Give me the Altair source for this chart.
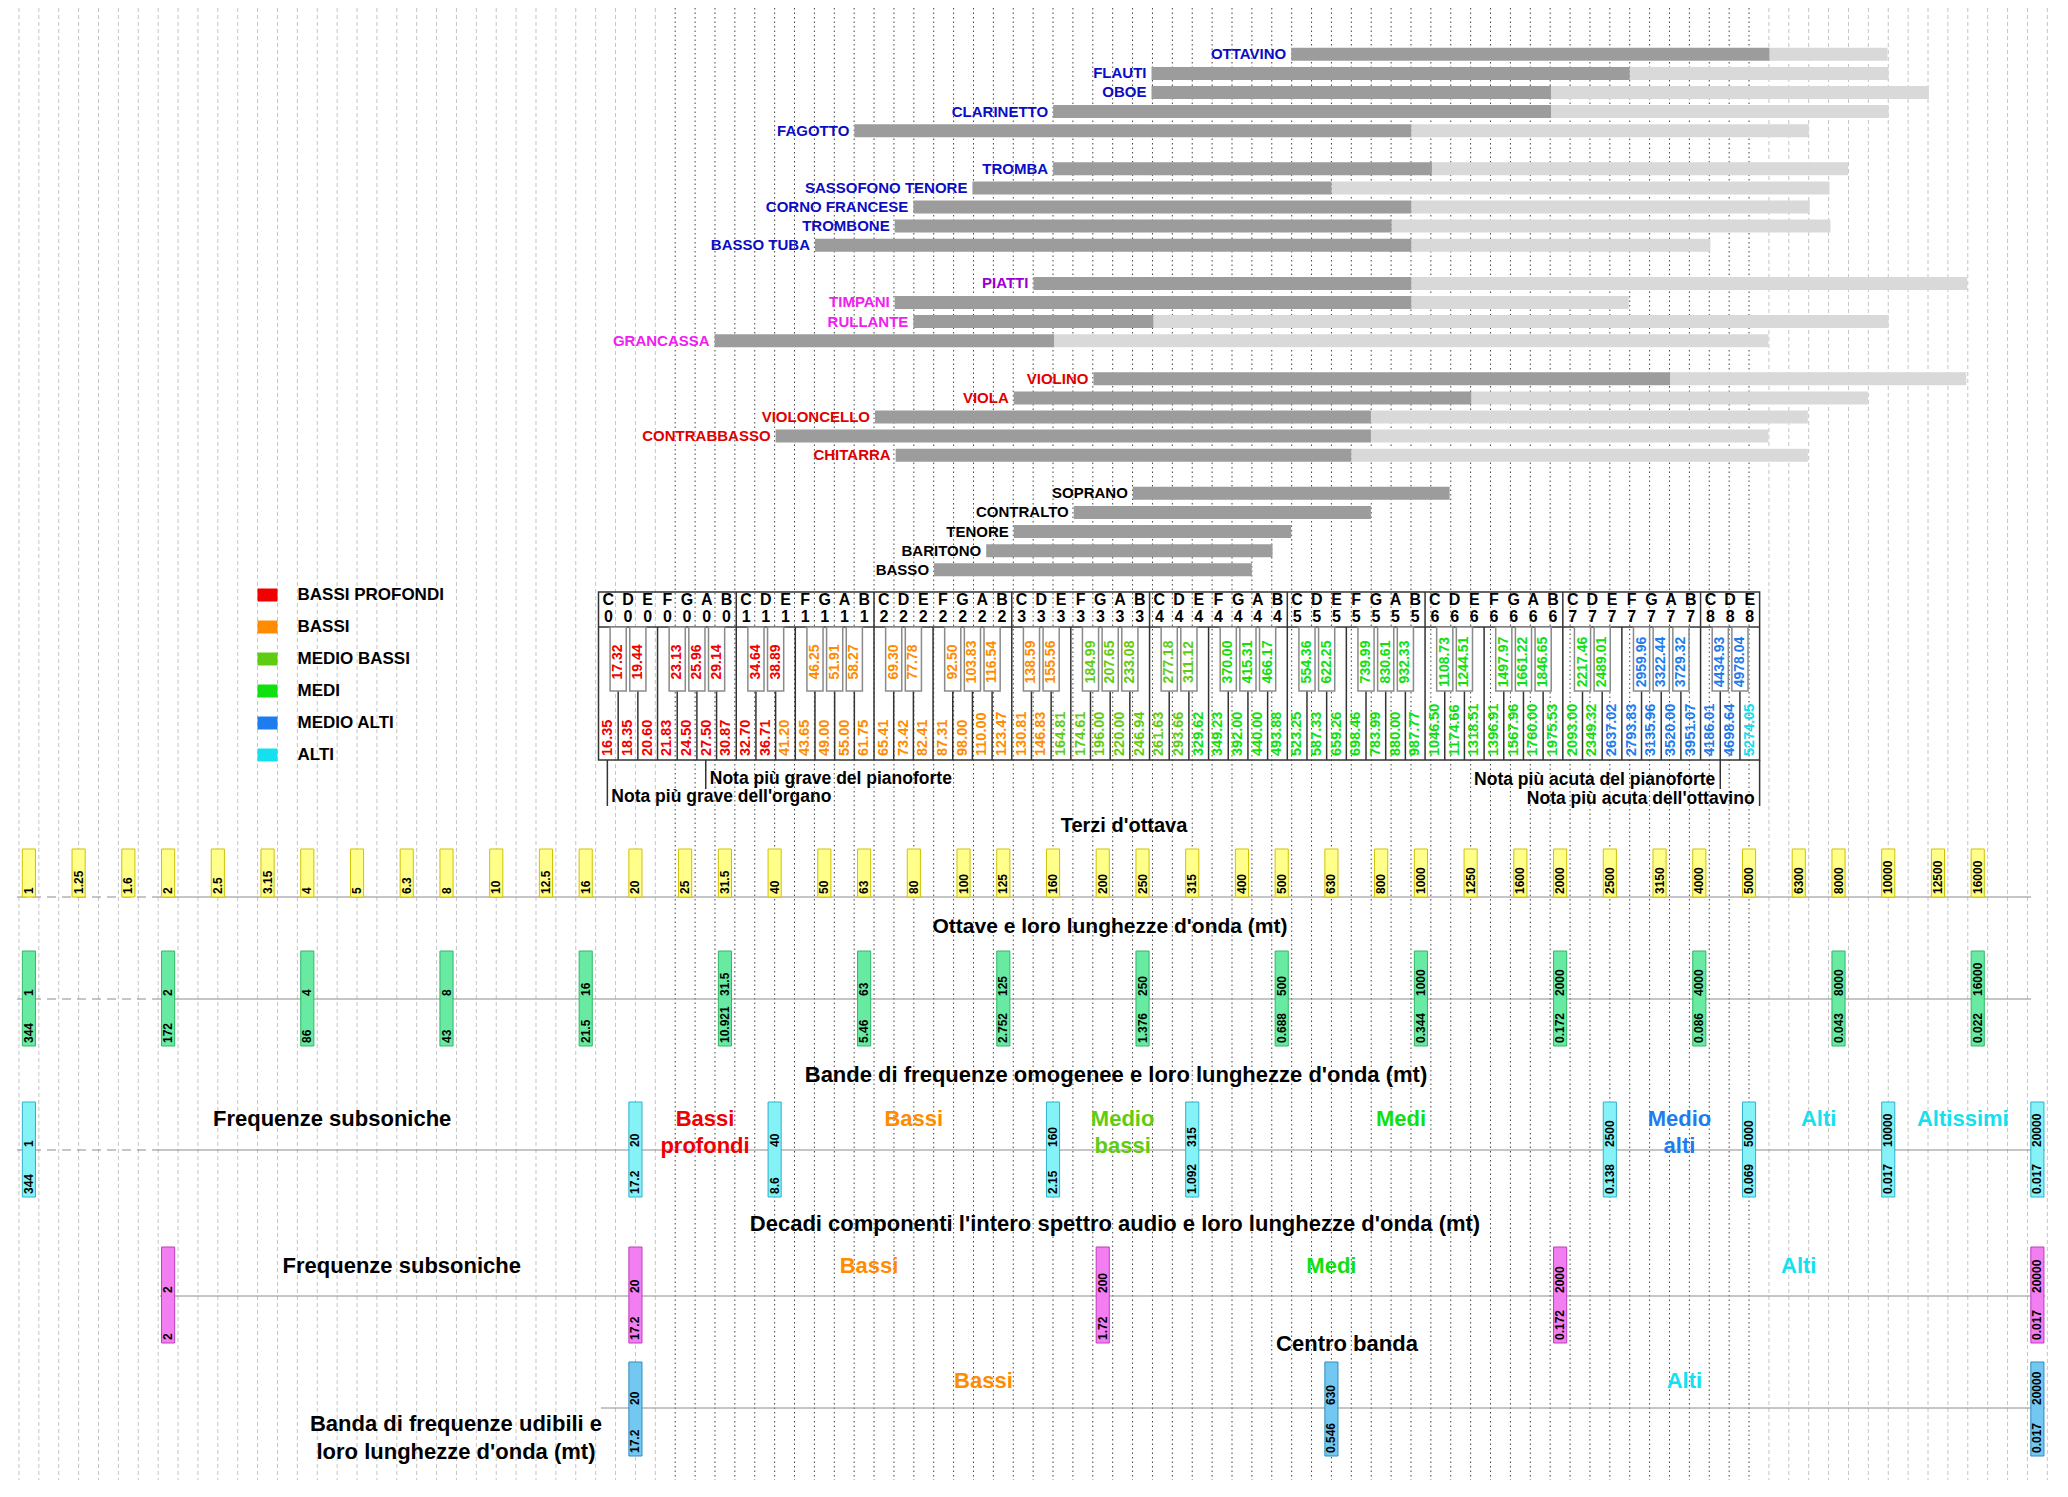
import altair as alt
import pandas as pd

# ======================= DATA =======================
instrument_names = ["OTTAVINO", "FLAUTI", "OBOE", "CLARINETTO", "FAGOTTO",
                    "TROMBA", "SASSOFONO TENORE", "CORNO FRANCESE", "TROMBONE", "BASSO TUBA",
                    "PIATTI", "TIMPANI", "RULLANTE", "GRANCASSA",
                    "VIOLINO", "VIOLA", "VIOLONCELLO", "CONTRABBASSO", "CHITARRA",
                    "SOPRANO", "CONTRALTO", "TENORE", "BARITONO", "BASSO"]
instrument_family = ["legni"] * 5 + ["ottoni"] * 5 + ["piatti", "tamburi", "tamburi", "tamburi"] + \
                    ["archi"] * 5 + ["voci"] * 5
instrument_row = [0, 1, 2, 3, 4, 6, 7, 8, 9, 10, 12, 13, 14, 15, 17, 18, 19, 20, 21, 23, 24, 25, 26, 27]
# keyboard key positions (white keys counted from C0)
instrument_low = [35.2, 28.1, 28.1, 23.1, 13.0, 23.1, 19.0, 16.0, 15.05, 11.0,
                  22.1, 15.05, 16.0, 5.9, 25.15, 21.1, 14.05, 9.0, 15.1,
                  27.15, 24.15, 21.1, 19.7, 17.05]
instrument_high = [59.5, 52.4, 48.4, 48.4, 41.3, 42.35, 37.25, 41.3, 40.3, 41.3,
                   41.3, 41.3, 28.2, 23.15, 54.45, 44.35, 39.25, 39.25, 38.25,
                   43.25, 39.25, 35.2, 34.25, 33.2]
instrument_harmonics = [65.5, 65.55, 67.6, 65.55, 61.5, 63.5, 62.55, 61.55, 62.6, 56.5,
                        69.55, 52.35, 65.55, 59.45, 69.5, 64.5, 61.45, 59.45, 61.45,
                        None, None, None, None, None]

note_letters = ["C", "D", "E", "F", "G", "A", "B"]
white_freqs = ["16.35", "18.35", "20.60", "21.83", "24.50", "27.50", "30.87",
               "32.70", "36.71", "41.20", "43.65", "49.00", "55.00", "61.75",
               "65.41", "73.42", "82.41", "87.31", "98.00", "110.00", "123.47",
               "130.81", "146.83", "164.81", "174.61", "196.00", "220.00", "246.94",
               "261.63", "293.66", "329.62", "349.23", "392.00", "440.00", "493.88",
               "523.25", "587.33", "659.26", "698.46", "783.99", "880.00", "987.77",
               "1046.50", "1174.66", "1318.51", "1396.91", "1567.96", "1760.00", "1975.53",
               "2093.00", "2349.32", "2637.02", "2793.83", "3135.96", "3520.00", "3951.07",
               "4186.01", "4698.64", "5274.05"]
black_freqs = ["17.32", "19.44", "23.13", "25.96", "29.14",
               "34.64", "38.89", "46.25", "51.91", "58.27",
               "69.30", "77.78", "92.50", "103.83", "116.54",
               "138.59", "155.56", "184.99", "207.65", "233.08",
               "277.18", "311.12", "370.00", "415.31", "466.17",
               "554.36", "622.25", "739.99", "830.61", "932.33",
               "1108.73", "1244.51", "1497.97", "1661.22", "1846.65",
               "2217.46", "2489.01", "2959.96", "3322.44", "3729.32",
               "4434.93", "4978.04"]
black_boundaries_in_octave = [1, 2, 4, 5, 6]   # C#, D#, F#, G#, A#

band_limits = [40, 160, 315, 2500, 5000]
legend_names = ["BASSI PROFONDI", "BASSI", "MEDIO BASSI", "MEDI", "MEDIO ALTI", "ALTI"]

annotation_texts = ["Nota più grave dell'organo", "Nota più grave del pianoforte",
                    "Nota più acuta del pianoforte", "Nota più acuta dell'ottavino"]
annotation_keys = [0, 5, 56, 58]

third_labels = ["1", "1.25", "1.6", "2", "2.5", "3.15", "4", "5", "6.3", "8", "10", "12.5", "16",
                "20", "25", "31.5", "40", "50", "63", "80", "100", "125", "160", "200", "250", "315",
                "400", "500", "630", "800", "1000", "1250", "1600", "2000", "2500", "3150", "4000",
                "5000", "6300", "8000", "10000", "12500", "16000"]
octave_labels = ["1", "2", "4", "8", "16", "31.5", "63", "125", "250", "500", "1000", "2000",
                 "4000", "8000", "16000"]
octave_wavelengths = ["344", "172", "86", "43", "21.5", "10.921", "5.46", "2.752", "1.376",
                      "0.688", "0.344", "0.172", "0.086", "0.043", "0.022"]
band_labels = ["1", "20", "40", "160", "315", "2500", "5000", "10000", "20000"]
band_wavelengths = ["344", "17.2", "8.6", "2.15", "1.092", "0.138", "0.069", "0.017", "0.017"]
band_names = ["Frequenze subsoniche", "Bassi\nprofondi", "Bassi", "Medio\nbassi", "Medi",
              "Medio\nalti", "Alti", "Altissimi"]
band_name_class = ["nero", "profondi", "bassi", "mediobassi", "medi", "medioalti", "alti", "alti"]
decade_labels = ["2", "20", "200", "2000", "20000"]
decade_wavelengths = ["2", "17.2", "1.72", "0.172", "0.017"]
decade_names = ["Frequenze subsoniche", "Bassi", "Medi", "Alti"]
decade_name_class = ["nero", "bassi", "medi", "alti"]
center_labels = ["20", "630", "20000"]
center_wavelengths = ["17.2", "0.546", "0.017"]
center_names = ["Bassi", "Alti"]
center_name_class = ["bassi", "alti"]

section_titles = ["Terzi d'ottava", "Ottave e loro lunghezze d'onda (mt)",
                  "Bande di frequenze omogenee e loro lunghezze d'onda (mt)",
                  "Decadi componenti l'intero spettro audio e loro lunghezze d'onda (mt)",
                  "Centro banda", "Banda di frequenze udibili e\nloro lunghezze d'onda (mt)"]

# ======================= STYLE / LAYOUT =======================
FONT = "Liberation Sans"
CLASS_COLORS = {"profondi": "#f00000", "bassi": "#ff8c00", "mediobassi": "#5ecc10",
                "medi": "#10e010", "medioalti": "#1c7cf0", "alti": "#14e0f0", "nero": "#000000"}
LEGEND_CLASSES = ["profondi", "bassi", "mediobassi", "medi", "medioalti", "alti"]
FAMILY_COLORS = {"legni": "#0c0cc4", "ottoni": "#0c0cc4", "piatti": "#9a00d0",
                 "tamburi": "#f020f0", "archi": "#e00000", "voci": "#000000"}

PX0, UNIT = 28.9, 19.886          # reference pixel of "1 Hz" and size of one key step
def px_to_p(px):
    return (px - PX0) / UNIT

X_DOMAIN = [px_to_p(8), px_to_p(2060)]
Y_DOMAIN = [8, 1488]
KB_P0, KB_STEP = px_to_p(598.5), 19.68 / UNIT
def kbp(k):
    return KB_P0 + KB_STEP * k

def third_pos(label):
    if label == "20000":
        return 101.0
    i = third_labels.index(label)
    return 7 * (i // 3) + [0, 2.5, 5][i % 3]

def band_class(v):
    v = float(v)
    for lim, c in zip(band_limits, LEGEND_CLASSES):
        if v < lim:
            return c
    return "alti"

INST_Y0, INST_STEP, BAR_H = 54.3, 19.09, 13
KB_TOP, KB_HEAD, KB_BLACK, KB_BOT = 592, 627, 691, 760
BOX_HALF = 0.33

XS = alt.Scale(domain=X_DOMAIN, nice=False, zero=False)
YS = alt.Scale(domain=Y_DOMAIN, reverse=True, nice=False, zero=False)

def X(f):
    return alt.X(f, type="quantitative", scale=XS, axis=None)

def Y(f):
    return alt.Y(f, type="quantitative", scale=YS, axis=None)

def C(f="c"):
    return alt.Color(f, type="nominal", scale=None)

layers = []

# ---------------- background grid ----------------
grid = []
for j in range(-1, 102):
    p = j + 0.5
    grid.append({"x": p, "y": 8, "y2": 1480, "dark": 32.4 <= p <= 86.6})
gdf = pd.DataFrame(grid)
layers.append(alt.Chart(gdf[~gdf.dark]).mark_rule(color="#c4c4c4", strokeDash=[4, 3], strokeWidth=1)
              .encode(x=X("x"), y=Y("y"), y2="y2"))
layers.append(alt.Chart(gdf[gdf.dark]).mark_rule(color="#444444", strokeDash=[1.5, 3], strokeWidth=1)
              .encode(x=X("x"), y=Y("y"), y2="y2"))

# ---------------- instruments ----------------
inst = pd.DataFrame({"name": instrument_names, "fam": instrument_family, "row": instrument_row,
                     "lo": instrument_low, "hi": instrument_high, "harm": instrument_harmonics})
inst["yc"] = INST_Y0 + INST_STEP * inst["row"]
inst["y1"] = inst["yc"] - BAR_H / 2
inst["y2"] = inst["yc"] + BAR_H / 2
inst["x1"] = inst["lo"].map(kbp)
inst["x2"] = inst["hi"].map(kbp)
inst["c"] = inst["fam"].map(FAMILY_COLORS)
harm = inst.dropna(subset=["harm"]).copy()
harm["xh"] = harm["harm"].map(kbp)
layers.append(alt.Chart(harm).mark_rect(color="#d9d9d9")
              .encode(x=X("x2"), x2="xh", y=Y("y1"), y2="y2"))
layers.append(alt.Chart(inst).mark_rect(color="#9c9c9c")
              .encode(x=X("x1"), x2="x2", y=Y("y1"), y2="y2"))
layers.append(alt.Chart(inst).mark_text(align="right", baseline="middle", dx=-5, font=FONT,
                                        fontWeight="bold", fontSize=15)
              .encode(x=X("x1"), y=Y("yc"), text="name:N", color=C()))

# ---------------- keyboard ----------------
whites = pd.DataFrame({"k": range(len(white_freqs)), "f": white_freqs})
whites["letter"] = [note_letters[k % 7] for k in whites["k"]]
whites["oct"] = [str(k // 7) for k in whites["k"]]
whites["xc"] = (whites["k"] + 0.5).map(kbp)
whites["c"] = [CLASS_COLORS[band_class(v)] for v in whites["f"]]
whites["y_letter"] = 600
whites["y_oct"] = 617
whites["y_freq"] = KB_BOT - 4

bpos = []
for o in range(9):
    for b in black_boundaries_in_octave:
        if 7 * o + b < len(white_freqs):
            bpos.append(7 * o + b)
blacks = pd.DataFrame({"b": bpos, "f": black_freqs})
blacks["xc"] = blacks["b"].map(kbp)
blacks["x1"] = (blacks["b"] - 0.41).map(kbp)
blacks["x2"] = (blacks["b"] + 0.41).map(kbp)
blacks["y1"], blacks["y2"], blacks["y3"] = KB_HEAD, KB_BLACK, KB_BOT
blacks["ym"] = 662
blacks["c"] = [CLASS_COLORS[band_class(v)] for v in blacks["f"]]

nk = len(white_freqs)
frame = pd.DataFrame({"x1": [kbp(0)], "x2": [kbp(nk)], "y1": [KB_TOP], "y2": [KB_BOT]})
layers.append(alt.Chart(frame).mark_rect(fill="white", fillOpacity=0, stroke="#333333", strokeWidth=1.5)
              .encode(x=X("x1"), x2="x2", y=Y("y1"), y2="y2"))
hline = pd.DataFrame({"x1": [kbp(0)], "x2": [kbp(nk)], "y": [KB_HEAD]})
layers.append(alt.Chart(hline).mark_rule(color="#333333", strokeWidth=1.5)
              .encode(x=X("x1"), x2="x2", y=Y("y")))
vl = []
for k in range(1, nk):
    if k % 7 == 0:
        vl.append({"x": kbp(k), "y": KB_TOP, "y2": KB_BOT})
    elif k % 7 == 3:
        vl.append({"x": kbp(k), "y": KB_HEAD, "y2": KB_BOT})
layers.append(alt.Chart(pd.DataFrame(vl)).mark_rule(color="#333333", strokeWidth=1.5)
              .encode(x=X("x"), y=Y("y"), y2="y2"))
layers.append(alt.Chart(blacks).mark_rule(color="#333333", strokeWidth=1.5)
              .encode(x=X("xc"), y=Y("y2"), y2="y3"))
layers.append(alt.Chart(blacks).mark_rect(fill="white", stroke="#8a8a8a", strokeWidth=1.5)
              .encode(x=X("x1"), x2="x2", y=Y("y1"), y2="y2"))
layers.append(alt.Chart(blacks).mark_text(angle=270, align="center", baseline="middle", font=FONT,
                                          fontWeight="bold", fontSize=14)
              .encode(x=X("xc"), y=Y("ym"), text="f:N", color=C()))
layers.append(alt.Chart(whites).mark_text(angle=270, align="left", baseline="middle", font=FONT,
                                          fontWeight="bold", fontSize=14.5)
              .encode(x=X("xc"), y=Y("y_freq"), text="f:N", color=C()))
layers.append(alt.Chart(whites).mark_text(align="center", baseline="middle", font=FONT,
                                          fontWeight="bold", fontSize=16, color="black")
              .encode(x=X("xc"), y=Y("y_letter"), text="letter:N"))
layers.append(alt.Chart(whites).mark_text(align="center", baseline="middle", font=FONT,
                                          fontWeight="bold", fontSize=16, color="black")
              .encode(x=X("xc"), y=Y("y_oct"), text="oct:N"))

# annotations under the keyboard
ann = pd.DataFrame({"t": annotation_texts, "k": annotation_keys})
ann["side"] = ["L", "L", "R", "R"]
ann["x"] = [kbp(k + 0.45) if s == "L" else kbp(k + 1) for k, s in zip(ann["k"], ann["side"])]
ann["y1"] = KB_BOT
ann["y2"] = [806, 789, 789, 806]
ann["yt"] = [797, 779, 780, 799]
layers.append(alt.Chart(ann).mark_rule(color="#333333", strokeWidth=1.5)
              .encode(x=X("x"), y=Y("y1"), y2="y2"))
layers.append(alt.Chart(ann[ann.side == "L"]).mark_text(align="left", baseline="middle", dx=4, font=FONT,
                                                         fontWeight="bold", fontSize=17.5, color="black")
              .encode(x=X("x"), y=Y("yt"), text="t:N"))
layers.append(alt.Chart(ann[ann.side == "R"]).mark_text(align="right", baseline="middle", dx=-5, font=FONT,
                                                         fontWeight="bold", fontSize=17.5, color="black")
              .encode(x=X("x"), y=Y("yt"), text="t:N"))

# ---------------- legend ----------------
leg = pd.DataFrame({"t": legend_names, "c": [CLASS_COLORS[c] for c in LEGEND_CLASSES]})
leg["yc"] = [595 + 32 * i for i in range(len(leg))]
leg["y1"] = leg["yc"] - 6.5
leg["y2"] = leg["yc"] + 6.5
leg["x1"] = px_to_p(257.5)
leg["x2"] = px_to_p(277.5)
leg["xt"] = px_to_p(297.5)
layers.append(alt.Chart(leg).mark_rect().encode(x=X("x1"), x2="x2", y=Y("y1"), y2="y2", color=C()))
layers.append(alt.Chart(leg).mark_text(align="left", baseline="middle", font=FONT, fontWeight="bold",
                                       fontSize=17, color="black")
              .encode(x=X("xt"), y=Y("yc"), text="t:N"))

# ---------------- frequency rows ----------------
def box_row(labels, wavelengths, top, line, bottom, fill, stroke):
    d = pd.DataFrame({"f": labels})
    d["p"] = d["f"].map(third_pos)
    d["x1"] = d["p"] - BOX_HALF
    d["x2"] = d["p"] + BOX_HALF
    d["y1"], d["y2"] = top, bottom
    d["yf"] = line - 3
    d["yw"] = bottom - 3
    d["w"] = wavelengths if wavelengths is not None else ""
    out = [alt.Chart(d).mark_rect(fill=fill, stroke=stroke, strokeWidth=1)
           .encode(x=X("x1"), x2="x2", y=Y("y1"), y2="y2"),
           alt.Chart(d).mark_text(angle=270, align="left", baseline="middle", font=FONT,
                                  fontWeight="bold", fontSize=12, color="black")
           .encode(x=X("p"), y=Y("yf"), text="f:N")]
    if wavelengths is not None:
        out.append(alt.Chart(d).mark_text(angle=270, align="left", baseline="middle", font=FONT,
                                          fontWeight="bold", fontSize=12, color="black")
                   .encode(x=X("p"), y=Y("yw"), text="w:N"))
    return d, out

def row_names(d, names, classes, y, size=22):
    mids = [(a + b) / 2 for a, b in zip(d["p"][:-1], d["p"][1:])]
    n = pd.DataFrame({"t": names, "x": mids, "c": [CLASS_COLORS[c] for c in classes]})
    n["y"] = y
    return alt.Chart(n).mark_text(align="center", baseline="middle", font=FONT, fontWeight="bold",
                                  fontSize=size, lineBreak="\n", lineHeight=27) \
        .encode(x=X("x"), y=Y("y"), text="t:N", color=C())

hl = []
def hrule(y, p1, p2, dashed=False):
    hl.append({"y": y, "x1": p1, "x2": p2, "dashed": dashed})

# thirds
_, lay = box_row(third_labels, None, 849, 897, 897, "#ffff8a", "#d2c200")
hrule(897, px_to_p(17), px_to_p(161), True)
hrule(897, px_to_p(161), px_to_p(2031))
# octaves
hrule(999, px_to_p(17), px_to_p(161), True)
hrule(999, px_to_p(161), px_to_p(2031))
_, lay2 = box_row(octave_labels, octave_wavelengths, 951, 999, 1046, "#68eaa2", "#2fb868")
# bands
hrule(1150, px_to_p(17), px_to_p(161), True)
hrule(1150, px_to_p(161), px_to_p(2045))
bd, lay3 = box_row(band_labels, band_wavelengths, 1102, 1150, 1197, "#84f2f6", "#2eb2cc")
# decades
hrule(1296, px_to_p(160), px_to_p(2045))
dd, lay4 = box_row(decade_labels, decade_wavelengths, 1247, 1296, 1343, "#f27ef2", "#c03cc0")
# center band
hrule(1408, px_to_p(601), px_to_p(2045))
cd, lay5 = box_row(center_labels, center_wavelengths, 1362, 1408, 1456, "#72c8f0", "#2e8ec0")

hdf = pd.DataFrame(hl)
layers.append(alt.Chart(hdf[hdf.dashed]).mark_rule(color="#8c8c8c", strokeDash=[9, 6], strokeWidth=1)
              .encode(x=X("x1"), x2="x2", y=Y("y")))
layers.append(alt.Chart(hdf[~hdf.dashed]).mark_rule(color="#8c8c8c", strokeWidth=1)
              .encode(x=X("x1"), x2="x2", y=Y("y")))
for l in lay + lay2 + lay3 + lay4 + lay5:
    layers.append(l)

layers.append(row_names(bd, band_names, band_name_class, 1119))
layers.append(row_names(dd, decade_names, decade_name_class, 1266))
layers.append(row_names(cd, center_names, center_name_class, 1381))

# ---------------- section titles ----------------
tdf = pd.DataFrame({"t": section_titles,
                    "x": [px_to_p(v) for v in [1124, 1110, 1116, 1115, 1347, 456]],
                    "y": [826, 927, 1075, 1224, 1344, 1424],
                    "s": [20, 21, 22, 22, 22, 22]})
layers.append(alt.Chart(tdf).mark_text(align="center", baseline="middle", font=FONT, fontWeight="bold",
                                       lineBreak="\n", lineHeight=28, color="black")
              .encode(x=X("x"), y=Y("y"), text="t:N", size=alt.Size("s:Q", scale=None, legend=None)))

chart = alt.layer(*layers).properties(
    width=2052, height=1480, padding=0, background="white",
    autosize=alt.AutoSizeParams(type="none")
).configure_view(stroke=None)

chart.save("out.html", embed_options={"renderer": "svg", "actions": False})
